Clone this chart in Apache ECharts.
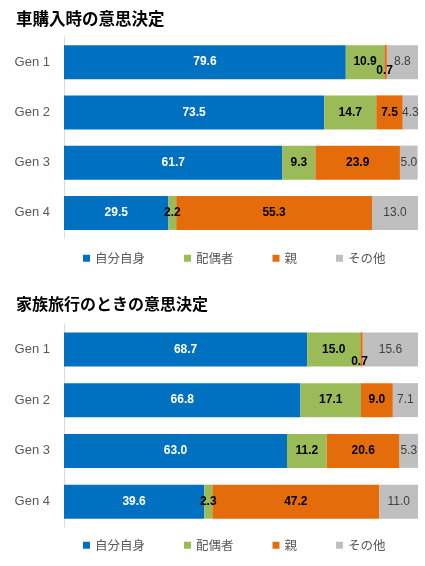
<!DOCTYPE html>
<html>
<head>
<meta charset="utf-8">
<script src="https://cdn.jsdelivr.net/npm/echarts@6/dist/echarts.min.js"></script>
<style>
  html, body { margin: 0; padding: 0; background: #fff; }
  #main { width: 425px; height: 566px; }
</style>
</head>
<body>
<div id="main"></div>
<script>
// categories and legend names
var gens = ['Gen 1', 'Gen 2', 'Gen 3', 'Gen 4'];
var names = ['自分自身', '配偶者', '親', 'その他'];

// chart 1: 車購入時の意思決定
var carSelf = [79.6, 73.5, 61.7, 29.5];
var carSpouse = [10.9, 14.7, 9.3, 2.2];
var carParent = [0.7, 7.5, 23.9, 55.3];
var carOther = [8.8, 4.3, 5.0, 13.0];

// chart 2: 家族旅行のときの意思決定
var tripSelf = [68.7, 66.8, 63.0, 39.6];
var tripSpouse = [15.0, 17.1, 11.2, 2.3];
var tripParent = [0.7, 9.0, 20.6, 47.2];
var tripOther = [15.6, 7.1, 5.3, 11.0];

var colors = ['#0070C0', '#9BBB59', '#E46C0A', '#BFBFBF'];
var labelStyles = [
    { color: '#fff', fontWeight: 'bold' },
    { color: '#000', fontWeight: 'bold' },
    { color: '#000', fontWeight: 'bold' },
    { color: '#404040', fontWeight: 'normal' }
];
var numFont = 'Liberation Sans, Arial, sans-serif';
var jpFont = 'Noto Sans CJK JP, sans-serif';

var chart = echarts.init(document.getElementById('main'));

function makeSeries(sets, idx, smallOffset) {
    return sets.map(function(vals, i) {
        return {
            name: names[i],
            type: 'bar',
            stack: 's' + idx,
            xAxisIndex: idx,
            yAxisIndex: idx,
            barWidth: 34,
            itemStyle: { color: colors[i] },
            label: {
                show: true,
                position: 'inside',
                fontFamily: numFont,
                fontSize: 12,
                color: labelStyles[i].color,
                fontWeight: labelStyles[i].fontWeight,
                formatter: function(p) { return p.value.toFixed(1); }
            },
            data: vals.map(function(v) {
                // tiny slices get their label pushed below the bar centre
                if (v < 1) {
                    return { value: v, label: { offset: smallOffset } };
                }
                return v;
            })
        };
    });
}

function yAxisFor(idx) {
    return {
        gridIndex: idx,
        type: 'category',
        inverse: true,
        data: gens,
        axisLine: { show: true, lineStyle: { color: '#D9D9D9' } },
        axisTick: { show: false },
        axisLabel: { color: '#595959', fontSize: 13, fontFamily: numFont, margin: 14 }
    };
}

function xAxisFor(idx) {
    return { gridIndex: idx, type: 'value', min: 0, max: 100, show: false };
}

function legendFor(top) {
    return {
        top: top,
        left: 78,
        itemWidth: 7,
        itemHeight: 7,
        itemGap: 39,
        icon: 'rect',
        textStyle: { color: '#595959', fontSize: 12.5, fontFamily: jpFont },
        data: names
    };
}

var option = {
    animation: false,
    title: [
        { text: '車購入時の意思決定', left: 11, top: 5,
          textStyle: { fontSize: 16.5, fontWeight: 'bold', color: '#000', fontFamily: jpFont } },
        { text: '家族旅行のときの意思決定', left: 11, top: 291,
          textStyle: { fontSize: 16, fontWeight: 'bold', color: '#000', fontFamily: jpFont } }
    ],
    legend: [legendFor(247), legendFor(534)],
    grid: [
        { left: 64, right: 7, top: 37, height: 201 },
        { left: 64, right: 7, top: 324, height: 203 }
    ],
    xAxis: [xAxisFor(0), xAxisFor(1)],
    yAxis: [yAxisFor(0), yAxisFor(1)],
    series: makeSeries([carSelf, carSpouse, carParent, carOther], 0, [-1, 9])
        .concat(makeSeries([tripSelf, tripSpouse, tripParent, tripOther], 1, [-2, 12]))
};

chart.setOption(option);
</script>
</body>
</html>
